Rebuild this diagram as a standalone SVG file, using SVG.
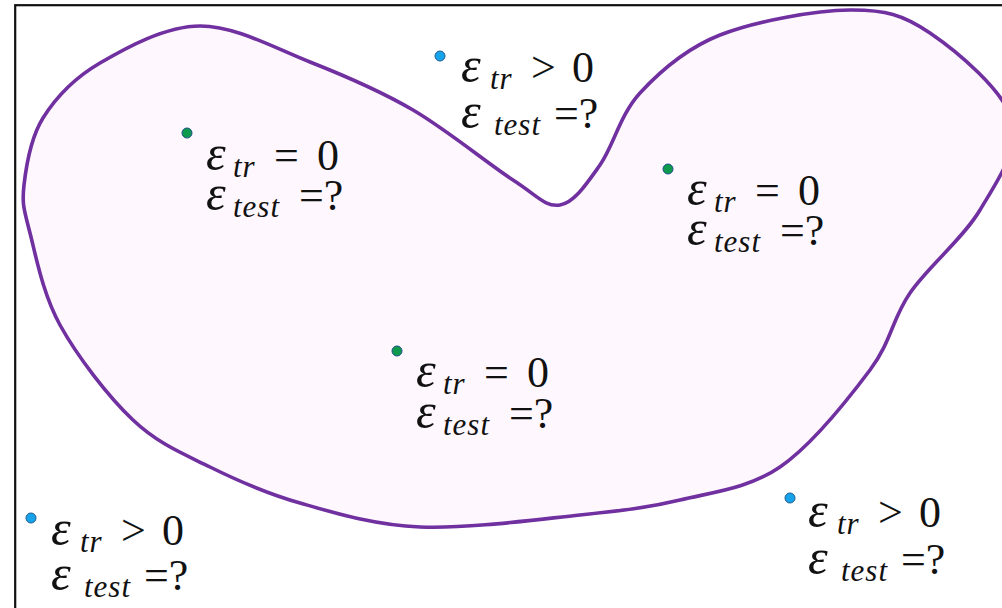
<svg xmlns="http://www.w3.org/2000/svg" width="1002" height="608" viewBox="0 0 1002 608">
<style>
.frame{fill:#ffffff;stroke:#111111;stroke-width:2.2}
.blob{fill:#fef8fe;stroke:#7030a0;stroke-width:3.6;stroke-linejoin:round}
.dg{fill:#0e9a4c;stroke:#1f4f8a;stroke-width:1}
.db{fill:#17a3ea;stroke:#1d5d94;stroke-width:1}
.m{font-family:"Liberation Serif","DejaVu Serif",serif;font-size:44px;fill:#111111}
.v{font-style:italic;font-size:50px}
.s{font-style:italic;font-size:31px;letter-spacing:1px}
</style>
<rect width="1002" height="608" fill="#ffffff"/>
<rect class="frame" x="15.2" y="5.2" width="1010" height="620"/>
<g id="region">
<path class="blob" d="M24,185 C26.2,165.8 30.3,138.3 43,118 C55.7,97.7 73.8,78.3 100,63 C126.2,47.7 165,26.2 200,26 C235,25.8 274.5,48 310,62 C345.5,76 379.2,90.3 413,110 C446.8,129.7 488.5,164.2 513,180 C537.5,195.8 545.5,207.5 560,205 C574.5,202.5 586.7,183.7 600,165 C613.3,146.3 620,114.7 640,93 C660,71.3 685,48.8 720,35 C755,21.2 815,10.3 850,10 C885,9.7 903,14.7 930,33 C957,51.3 1003.7,90.5 1012,120 C1020.3,149.5 997,181.2 980,210 C963,238.8 928.3,266.3 910,293 C891.7,319.7 891.7,341 870,370 C848.3,399 811.7,445.3 780,467 C748.3,488.7 713.3,492 680,500 C646.7,508 623.3,510.5 580,515 C536.7,519.5 466.7,529 420,527 C373.3,525 335,513 300,503 C265,493 237.8,480.8 210,467 C182.2,453.2 158,443.7 133,420 C108,396.3 77.2,356.2 60,325 C42.8,293.8 36,256.3 30,233 C24,209.7 21.8,204.2 24,185 Z"/>
</g>
<g id="pt-green-left">
<circle class="dg" cx="187" cy="133" r="5"/>
<text class="m"><tspan class="v" x="206" y="170">ε</tspan><tspan class="s" x="233" y="177">tr</tspan><tspan x="274" y="170">=</tspan><tspan x="317" y="170">0</tspan></text>
<text class="m"><tspan class="v" x="206" y="210">ε</tspan><tspan class="s" x="233" y="217">test</tspan><tspan x="299" y="210">=?</tspan></text>
</g>
<g id="pt-green-right">
<circle class="dg" cx="668" cy="169" r="5"/>
<text class="m"><tspan class="v" x="687" y="205">ε</tspan><tspan class="s" x="714" y="212">tr</tspan><tspan x="755" y="205">=</tspan><tspan x="798" y="205">0</tspan></text>
<text class="m"><tspan class="v" x="687" y="245">ε</tspan><tspan class="s" x="714" y="252">test</tspan><tspan x="780" y="245">=?</tspan></text>
</g>
<g id="pt-green-center">
<circle class="dg" cx="397" cy="351" r="5"/>
<text class="m"><tspan class="v" x="416" y="387">ε</tspan><tspan class="s" x="443" y="394">tr</tspan><tspan x="484" y="387">=</tspan><tspan x="527" y="387">0</tspan></text>
<text class="m"><tspan class="v" x="416" y="428">ε</tspan><tspan class="s" x="443" y="435">test</tspan><tspan x="509" y="428">=?</tspan></text>
</g>
<g id="pt-blue-top">
<circle class="db" cx="440" cy="56" r="5"/>
<text class="m"><tspan class="v" x="461" y="82">ε</tspan><tspan class="s" x="490" y="89">tr</tspan><tspan x="531" y="82">&gt;</tspan><tspan x="572" y="82">0</tspan></text>
<text class="m"><tspan class="v" x="461" y="128">ε</tspan><tspan class="s" x="494" y="135">test</tspan><tspan x="554" y="128">=?</tspan></text>
</g>
<g id="pt-blue-bottom-left">
<circle class="db" cx="31" cy="518" r="5"/>
<text class="m"><tspan class="v" x="51" y="545">ε</tspan><tspan class="s" x="80" y="552">tr</tspan><tspan x="121" y="545">&gt;</tspan><tspan x="162" y="545">0</tspan></text>
<text class="m"><tspan class="v" x="51" y="590">ε</tspan><tspan class="s" x="84" y="597">test</tspan><tspan x="144" y="590">=?</tspan></text>
</g>
<g id="pt-blue-bottom-right">
<circle class="db" cx="790" cy="498" r="5"/>
<text class="m"><tspan class="v" x="808" y="527">ε</tspan><tspan class="s" x="837" y="534">tr</tspan><tspan x="878" y="527">&gt;</tspan><tspan x="919" y="527">0</tspan></text>
<text class="m"><tspan class="v" x="808" y="574">ε</tspan><tspan class="s" x="841" y="581">test</tspan><tspan x="901" y="574">=?</tspan></text>
</g>
</svg>
